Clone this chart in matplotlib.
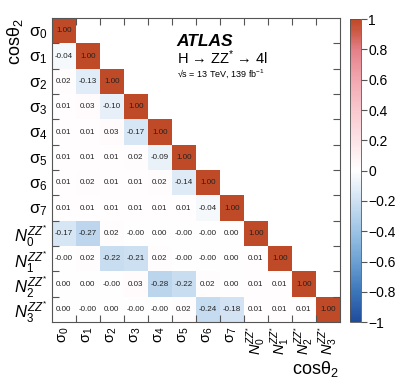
import numpy as np
import matplotlib
matplotlib.use("Agg")
import matplotlib.pyplot as plt
from matplotlib.colors import LinearSegmentedColormap

plt.rcParams['font.family'] = ['Liberation Sans', 'DejaVu Sans']
plt.rcParams['mathtext.fontset'] = 'custom'
plt.rcParams['mathtext.rm'] = 'Liberation Sans'
plt.rcParams['mathtext.it'] = 'Liberation Sans:italic'
plt.rcParams['mathtext.bf'] = 'Liberation Sans:bold'

# ---------------------------
# data
# ---------------------------
labels = ["σ$_{0}$", "σ$_{1}$", "σ$_{2}$", "σ$_{3}$",
          "σ$_{4}$", "σ$_{5}$", "σ$_{6}$", "σ$_{7}$",
          r"$N_{0}^{ZZ^{*}}$", r"$N_{1}^{ZZ^{*}}$", r"$N_{2}^{ZZ^{*}}$", r"$N_{3}^{ZZ^{*}}$"]

# lower triangle, row by row (top to bottom)
rows = [
    [1.00],
    [-0.04, 1.00],
    [0.02, -0.13, 1.00],
    [0.01, 0.03, -0.10, 1.00],
    [0.01, 0.01, 0.03, -0.17, 1.00],
    [0.01, 0.01, 0.01, 0.02, -0.09, 1.00],
    [0.01, 0.02, 0.01, 0.01, 0.02, -0.14, 1.00],
    [0.01, 0.01, 0.01, 0.01, 0.01, 0.01, -0.04, 1.00],
    [-0.17, -0.27, 0.02, -0.00, 0.00, -0.00, -0.00, 0.00, 1.00],
    [-0.00, 0.02, -0.22, -0.21, 0.02, -0.00, -0.00, 0.00, 0.01, 1.00],
    [0.00, 0.00, -0.00, 0.03, -0.28, -0.22, 0.02, 0.00, 0.01, 0.01, 1.00],
    [0.00, -0.00, 0.00, -0.00, -0.00, 0.02, -0.24, -0.18, 0.01, 0.01, 0.01, 1.00],
]
# text as printed (keeps "-0.00")
rows_txt = [
    ["1.00"],
    ["-0.04", "1.00"],
    ["0.02", "-0.13", "1.00"],
    ["0.01", "0.03", "-0.10", "1.00"],
    ["0.01", "0.01", "0.03", "-0.17", "1.00"],
    ["0.01", "0.01", "0.01", "0.02", "-0.09", "1.00"],
    ["0.01", "0.02", "0.01", "0.01", "0.02", "-0.14", "1.00"],
    ["0.01", "0.01", "0.01", "0.01", "0.01", "0.01", "-0.04", "1.00"],
    ["-0.17", "-0.27", "0.02", "-0.00", "0.00", "-0.00", "-0.00", "0.00", "1.00"],
    ["-0.00", "0.02", "-0.22", "-0.21", "0.02", "-0.00", "-0.00", "0.00", "0.01", "1.00"],
    ["0.00", "0.00", "-0.00", "0.03", "-0.28", "-0.22", "0.02", "0.00", "0.01", "0.01", "1.00"],
    ["0.00", "-0.00", "0.00", "-0.00", "-0.00", "0.02", "-0.24", "-0.18", "0.01", "0.01", "0.01", "1.00"],
]
cbar_ticks = [-1, -0.8, -0.6, -0.4, -0.2, 0, 0.2, 0.4, 0.6, 0.8, 1]
cbar_labels = ["\u22121", "\u22120.8", "\u22120.6", "\u22120.4", "\u22120.2", "0",
               "0.2", "0.4", "0.6", "0.8", "1"]

n = len(labels)
mat = np.full((n, n), np.nan)
for i, r in enumerate(rows):
    mat[i, :len(r)] = r

cmap = LinearSegmentedColormap.from_list("rootlike", [
    (0.0, "#1f4c9c"),
    (0.1, "#3c76b9"),
    (0.2, "#6ca1d3"),
    (0.3, "#9dc3e5"),
    (0.4, "#cfe1f2"),
    (0.5, "#ffffff"),
    (0.6, "#fce3e7"),
    (0.7, "#f8c8ce"),
    (0.8, "#f2a8b0"),
    (0.9, "#e58089"),
    (0.96, "#cc5a45"),
    (1.0, "#bf4a27"),
])
cmap.set_bad("white")

fig = plt.figure(figsize=(3.99, 3.83), dpi=100)
ax = fig.add_axes([0.130, 0.159, 0.722, 0.794])
cax = fig.add_axes([0.877, 0.159, 0.028, 0.791])

mesh = ax.pcolormesh(np.arange(n + 1), np.arange(n + 1), np.ma.masked_invalid(mat),
                     cmap=cmap, vmin=-1, vmax=1)
ax.set_xlim(0, n)
ax.set_ylim(n, 0)

for i, r in enumerate(rows_txt):
    for j, t in enumerate(r):
        ax.text(j + 0.5, i + 0.5, t, ha="center", va="center", fontsize=5.8, color="#222222")

# ticks at boundaries, labels at centres
ax.set_xticks(np.arange(1, n))
ax.set_yticks(np.arange(1, n))
ax.set_xticklabels([])
ax.set_yticklabels([])
ax.tick_params(which="major", direction="in", length=5, width=0.8, color="#555555",
               top=True, right=True)
ax.set_xticks(np.arange(n) + 0.5, minor=True)
ax.set_yticks(np.arange(n) + 0.5, minor=True)
ax.set_xticklabels(labels, minor=True, rotation=90, fontsize=10.5)
ax.set_yticklabels(labels, minor=True, fontsize=12)
ax.tick_params(which="minor", length=0, pad=3)
for s in ax.spines.values():
    s.set_color("#555555")
    s.set_linewidth(0.8)

cb = fig.colorbar(mesh, cax=cax, ticks=cbar_ticks)
cb.outline.set_edgecolor("#555555")
cb.outline.set_linewidth(0.6)
cax.tick_params(length=4, width=0.8, color="#555555", labelsize=10, pad=1)
cax.set_yticklabels(cbar_labels)

fig.text(0.848, 0.010, "cosθ$_{2}$", ha="right", va="bottom", fontsize=13)
fig.text(0.012, 0.953, "cosθ$_{2}$", ha="left", va="top", fontsize=13, rotation=90)

fig.text(0.443, 0.880, "ATLAS", fontsize=12.5, fontweight="bold", fontstyle="italic")
fig.text(0.443, 0.834, "H \u2192 ZZ$^{*}$ \u2192 4l", fontsize=10.5)
fig.text(0.443, 0.800, "\u221as = 13 TeV, 139 fb$^{-1}$", fontsize=6.5)

fig.savefig("out.png", dpi=100)
